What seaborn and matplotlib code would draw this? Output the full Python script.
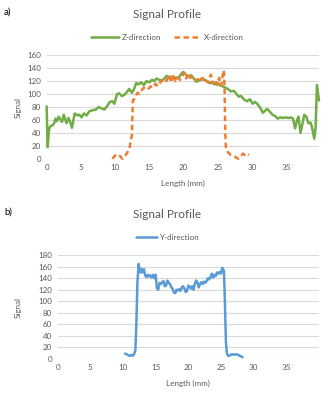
import seaborn as sns
import pandas as pd
import matplotlib.pyplot as plt

# Z-direction profile (panel a)
z_mm = [0.0, 0.15, 0.35, 0.5, 0.9, 1.1, 1.3, 1.5, 1.75, 2.05, 2.25, 2.5, 2.9, 3.2, 3.4, 3.7,
        4.1, 4.5, 4.8, 5.1, 5.45, 5.85, 6.2, 6.7, 7.2, 7.6, 8.0, 8.4, 8.75, 9.25, 9.6, 9.9,
        10.3, 10.6, 11.0, 11.4, 11.8, 12.05, 12.45, 12.75, 13.1, 13.4, 13.8, 14.2, 14.6, 15.0,
        15.4, 15.7, 16.05, 16.45, 16.9, 17.3, 17.5, 17.8, 18.2, 18.5, 18.9, 19.3, 19.65, 19.95,
        20.35, 20.7, 21.1, 21.5, 21.9, 22.3, 22.7, 23.05, 23.45, 23.85, 24.25, 24.6, 25.0, 25.4,
        25.7, 26.1, 26.45, 26.95, 27.35, 27.75, 28.1, 28.4, 28.9, 29.3, 29.7, 30.1, 30.45, 30.85,
        31.25, 31.6, 31.9, 32.2, 32.6, 33.0, 33.4, 33.75, 34.15, 34.55, 34.95, 35.3, 35.7, 36.0,
        36.3, 36.6, 36.8, 37.1, 37.4, 37.65, 37.95, 38.25, 38.55, 38.75, 39.1, 39.3, 39.5, 39.8]
z_sig = [81, 18, 45, 50, 52, 55, 62, 58, 65, 60, 57, 68, 55, 63, 58, 48,
         70, 67, 68, 64, 70, 67, 73, 75, 76, 80, 78, 76, 80, 88, 89, 85,
         100, 101, 97, 99, 104, 108, 102, 107, 117, 115, 118, 114, 120, 118,
         122, 120, 124, 122, 121, 125, 128, 126, 123, 127, 124, 125, 131, 134,
         130, 127, 129, 124, 119, 121, 124, 122, 120, 117, 118, 115, 117, 113,
         112, 110, 108, 104, 105, 100, 96, 97, 91, 89, 92, 85, 88, 84,
         78, 71, 74, 77, 73, 68, 66, 62, 64, 63, 64, 63, 64, 62,
         47, 60, 65, 40, 55, 68, 65, 55, 56, 50, 31, 48, 114, 90]

# X-direction profile (panel a)
x_mm = [9.6, 10.0, 10.5, 10.9, 11.1, 11.5, 11.8, 12.1, 12.3, 12.45, 12.6, 12.8, 13.0, 13.3,
        13.6, 13.9, 14.2, 14.5, 14.8, 15.2, 15.5, 15.9, 16.2, 16.6, 17.0, 17.3, 17.6, 17.9,
        18.2, 18.5, 18.8, 19.1, 19.5, 19.8, 20.1, 20.4, 20.7, 21.0, 21.3, 21.7, 22.0, 22.4,
        22.7, 23.0, 23.3, 23.6, 24.0, 24.3, 24.6, 24.9, 25.2, 25.5, 25.8, 25.9, 26.0, 26.1,
        26.2, 26.5, 26.9, 27.3, 27.7, 28.0, 28.4, 28.7, 29.0, 29.3, 29.6]
x_sig = [0, 5, 7, 2, 0, 5, 10, 15, 30, 35, 90, 92, 98, 102,
         100, 106, 110, 108, 107, 112, 110, 116, 112, 118, 122, 118, 122, 130,
         118, 131, 120, 126, 122, 127, 133, 124, 132, 125, 128, 123, 121, 127,
         122, 126, 120, 118, 130, 116, 122, 114, 125, 113, 135, 137, 110, 40,
         15, 10, 6, 5, 2, 0, 4, 8, 6, 8, 6]

# Y-direction profile (panel b)
y_mm = [10.3, 10.7, 11.0, 11.3, 11.5, 11.7, 11.9, 12.05, 12.2, 12.4, 12.5, 12.65, 12.8, 13.0,
        13.2, 13.4, 13.6, 13.8, 14.0, 14.2, 14.4, 14.6, 14.8, 15.0, 15.2, 15.4, 15.6, 15.8,
        16.0, 16.2, 16.4, 16.6, 16.8, 17.0, 17.2, 17.4, 17.6, 17.8, 18.0, 18.2, 18.4, 18.6,
        18.8, 19.0, 19.2, 19.4, 19.6, 19.8, 20.0, 20.2, 20.4, 20.6, 20.8, 21.0, 21.2, 21.4,
        21.6, 21.8, 22.0, 22.2, 22.4, 22.6, 22.8, 23.0, 23.2, 23.4, 23.6, 23.8, 24.0, 24.2,
        24.4, 24.6, 24.8, 25.0, 25.2, 25.45, 25.6, 25.75, 25.9, 26.1, 26.4, 26.7, 27.0, 27.3,
        27.6, 27.9, 28.3]
y_sig = [9, 7, 5, 7, 5, 8, 15, 60, 130, 165, 158, 150, 156, 150,
         156, 145, 142, 146, 143, 145, 141, 146, 140, 146, 122, 120, 132, 130,
         133, 135, 126, 127, 136, 132, 130, 124, 122, 115, 114, 120, 119, 121,
         118, 124, 126, 122, 116, 118, 127, 126, 122, 126, 120, 130, 136, 133,
         124, 130, 133, 130, 134, 132, 135, 140, 138, 142, 148, 141, 146, 144,
         150, 148, 151, 148, 158, 153, 100, 30, 10, 5, 6, 8, 7, 8,
         7, 5, 3]

sns.set_style("white")
plt.rcParams['font.family'] = ['Lato', 'DejaVu Sans']
gray = "#595959"
fs = 5.8

fig = plt.figure(figsize=(3.33, 4.0), dpi=100)
ax_a = fig.add_axes([0.140, 0.603, 0.818, 0.259])
ax_b = fig.add_axes([0.173, 0.103, 0.785, 0.259])

sns.lineplot(x=z_mm, y=z_sig, ax=ax_a, color="#70AD47", linewidth=1.8,
             label="Z-direction", clip_on=False)
sns.lineplot(x=x_mm, y=x_sig, ax=ax_a, color="#ED7D31", linewidth=1.8,
             linestyle=(0, (2.2, 1.4)), label="X-direction", clip_on=False)
sns.lineplot(x=y_mm, y=y_sig, ax=ax_b, color="#5B9BD5", linewidth=1.8,
             label="Y-direction", clip_on=False)

for ax, xmax, ymax in [(ax_a, 39.8, 160), (ax_b, 40.0, 180)]:
    ax.set_xlim(0, xmax)
    ax.set_ylim(0, ymax)
    ax.set_xticks(range(0, 40, 5))
    ax.set_yticks(range(0, ymax + 1, 20))
    ax.grid(axis="y", color="#d9d9d9", linewidth=0.8)
    ax.set_axisbelow(True)
    sns.despine(ax=ax, left=True, bottom=True, top=True, right=True)
    ax.tick_params(length=0, labelsize=fs, labelcolor=gray, pad=4)
    ax.set_xlabel("")
    ax.set_ylabel("")

ax_a.legend(loc="center", bbox_to_anchor=(0.504, 0.9075), bbox_transform=fig.transFigure,
            ncol=2, frameon=False, fontsize=fs, handlelength=3.4, columnspacing=1.5,
            handletextpad=0.4, labelcolor=gray)
ax_b.legend(loc="center", bbox_to_anchor=(0.504, 0.4075), bbox_transform=fig.transFigure,
            frameon=False, fontsize=fs, handlelength=2.6, handletextpad=0.3, labelcolor=gray)

# panel tag, title, axis labels (pixel positions from the top of each panel)
for top, tag, sig_y, len_x in [(0, "a)", 107, 183 / 333), (200, "b)", 307, 188 / 333)]:
    fig.text(0.012, 1 - (top + 12) / 400, tag, fontsize=7, color="black", va="center")
    fig.text(0.502, 1 - (top + 15) / 400, "Signal Profile", fontsize=8.5, color=gray,
             ha="center", va="center")
    fig.text(18 / 333, 1 - sig_y / 400, "Signal", fontsize=fs, color=gray, rotation=90,
             ha="center", va="center")
    fig.text(len_x, 1 - (top + 183) / 400, "Length (mm)", fontsize=fs, color=gray,
             ha="center", va="center")

fig.savefig("out.png", dpi=100)
